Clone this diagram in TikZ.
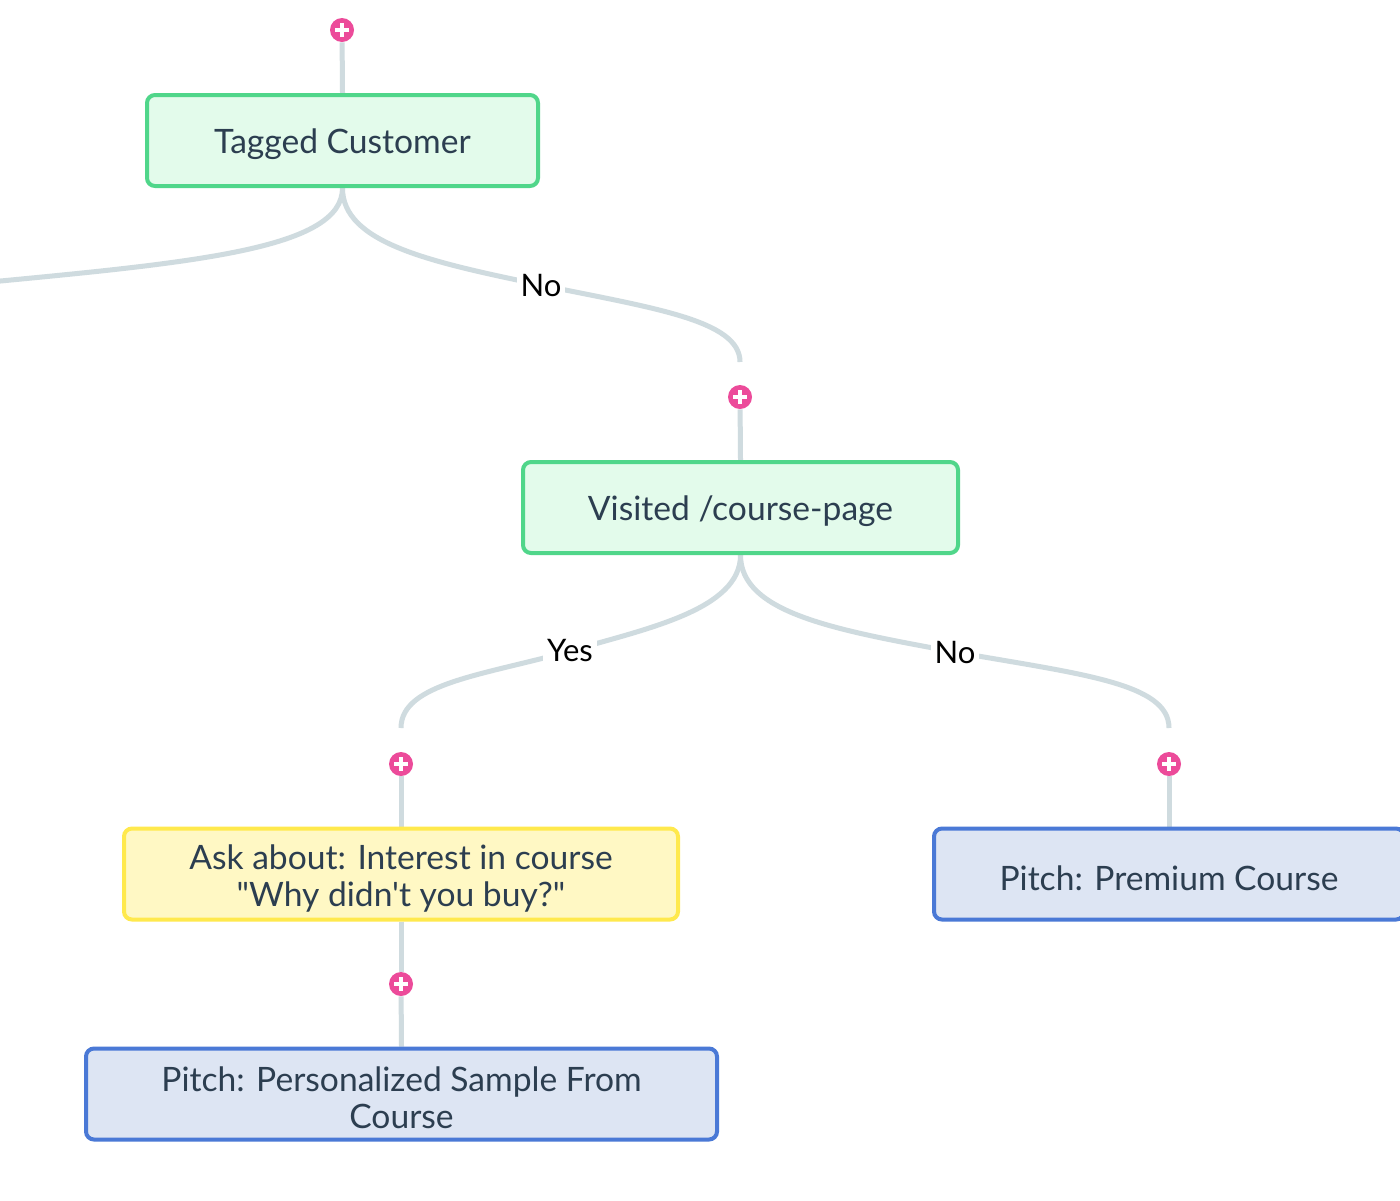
\documentclass[tikz,border=0pt]{standalone}
\usepackage{fontspec}
\newfontfamily\diagfont{Lato}
\usetikzlibrary{calc}
\definecolor{txt}{RGB}{44,62,80}
\definecolor{edgec}{RGB}{207,219,223}
\definecolor{pinkc}{RGB}{236,75,154}
\definecolor{gborder}{RGB}{80,214,138}
\definecolor{gfill}{RGB}{227,251,235}
\definecolor{yborder}{RGB}{255,233,77}
\definecolor{yfill}{RGB}{255,248,196}
\definecolor{bborder}{RGB}{74,121,214}
\definecolor{bfill}{RGB}{221,229,243}
\newcommand{\mystrut}{\rule{0pt}{16.4pt}}
\pgfdeclarelayer{bg}
\pgfsetlayers{bg,main}
\begin{document}
\begin{tikzpicture}[x=0.5pt,y=-0.5pt,
  every node/.style={font=\diagfont\fontsize{16.8}{18.5}\selectfont},
  box/.style={rectangle, rounded corners=4pt, line width=2pt, minimum height=45.5pt, text=txt, align=center, inner sep=0pt},
  greenbox/.style={draw=gborder, fill=gfill},
  yellowbox/.style={draw=yborder, fill=yfill},
  bluebox/.style={draw=bborder, fill=bfill},
  conn/.style={draw=edgec, line width=2.5pt},
  lbl/.style={fill=white, text=black, inner sep=2pt, font=\diagfont\fontsize{15.5}{18}\selectfont},
  plus/.style={circle, fill=pinkc, minimum size=12pt, inner sep=0pt,
    path picture={
      \draw[white, line width=2.3pt] ([xshift=-3.5pt]path picture bounding box.center) -- ([xshift=3.5pt]path picture bounding box.center);
      \draw[white, line width=2.3pt] ([yshift=-3.5pt]path picture bounding box.center) -- ([yshift=3.5pt]path picture bounding box.center);
    }}]
\useasboundingbox (0,0) rectangle (1400,1200);

% nodes
\node[box,greenbox,minimum width=195.5pt] (n1) at (342.5,140.5) {\mystrut Tagged Customer};
\node[box,greenbox,minimum width=217.5pt] (n2) at (740.5,507.5) {\mystrut Visited /course-page};
\node[box,yellowbox,minimum width=277pt] (n3) at (401,874) {\mystrut Ask about: Interest in course\\"Why didn't you buy?"};
\node[box,bluebox,minimum width=235pt] (n4) at (1169,874) {\mystrut Pitch: Premium Course};
\node[box,bluebox,minimum width=315.5pt] (n5) at (401.5,1094) {\mystrut Pitch: Personalized Sample From\\Course};

\node[plus] (p1) at (342,30) {};
\node[plus] (p2) at (740,397) {};
\node[plus] (p3) at (401,764) {};
\node[plus] (p4) at (1169,764) {};
\node[plus] (p5) at (401,984) {};

\coordinate (offleft) at (-10,282);
\coordinate (t2) at (740,362);
\coordinate (t3) at (401,728);
\coordinate (t4) at (1169,728);
\coordinate (l1) at (541,285);
\coordinate (l2) at (570,651);
\coordinate (l3) at (955,652);

\begin{pgfonlayer}{bg}
\fill[white] (0,0) rectangle (1400,1200);
\draw[conn] (p1) -- (n1.north);
\draw[conn] (n1.south) .. controls +(0,60) and +(210,-20) .. (offleft);
\draw[conn] (n1.south) .. controls +(0,55) and +(-111,-23) .. (l1)
  .. controls +(111,23) and +(0,-42) .. (t2);
\draw[conn] (p2) -- (n2.north);
\draw[conn] (n2.south) .. controls +(0,55) and +(75,-22) .. (l2)
  .. controls +(-85,24) and +(0,-45) .. (t3);
\draw[conn] (n2.south) .. controls +(0,58) and +(-120,-22) .. (l3)
  .. controls +(125,22) and +(0,-45) .. (t4);
\draw[conn] (p3) -- (n3.north);
\draw[conn] (p4) -- (n4.north);
\draw[conn] (n3.south) -- (p5);
\draw[conn] (p5) -- (n5.north);
\end{pgfonlayer}
\node[lbl] at (l1) {No};
\node[lbl] at (l2) {Yes};
\node[lbl] at (l3) {No};
\end{tikzpicture}
\end{document}
